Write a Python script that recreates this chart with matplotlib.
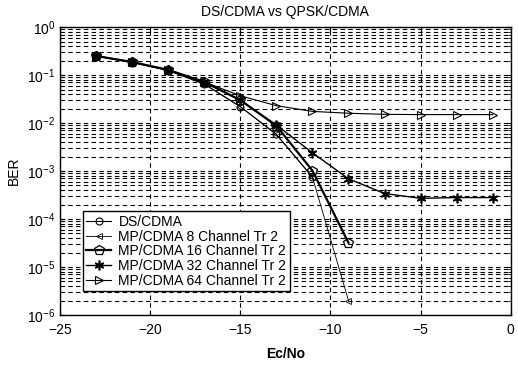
import matplotlib
matplotlib.use("Agg")
import matplotlib.pyplot as plt
import numpy as np

plt.rcParams['font.family'] = ['Liberation Sans', 'DejaVu Sans']

x_full = [-23, -21, -19, -17, -15, -13, -11, -9, -7, -5, -3, -1]

ds_x = [-23, -21, -19, -17, -15, -13, -11]
ds_ber = [0.25, 0.185, 0.125, 0.065, 0.022, 0.0058, 0.00075]

ch8_x = [-23, -21, -19, -17, -15, -13, -11, -9]
ch8_ber = [0.25, 0.185, 0.125, 0.065, 0.022, 0.0058, 0.00075, 2e-6]

ch16_x = [-23, -21, -19, -17, -15, -13, -11, -9]
ch16_ber = [0.25, 0.187, 0.128, 0.072, 0.030, 0.0088, 0.00102, 3.2e-5]

ch32_x = x_full
ch32_ber = [0.25, 0.187, 0.128, 0.072, 0.030, 0.0091, 0.0024, 0.00069,
            0.00034, 0.00027, 0.00028, 0.00028]

ch64_x = x_full
ch64_ber = [0.25, 0.185, 0.128, 0.072, 0.037, 0.023, 0.0175, 0.016,
            0.0152, 0.015, 0.015, 0.015]

labels = ["DS/CDMA", "MP/CDMA 8 Channel Tr 2", "MP/CDMA 16 Channel Tr 2",
          "MP/CDMA 32 Channel Tr 2", "MP/CDMA 64 Channel Tr 2"]
title = "DS/CDMA vs QPSK/CDMA"

fig = plt.figure(figsize=(5.18, 3.71), dpi=100)
ax = fig.add_axes([0.1158, 0.151, 0.986 - 0.1158, 0.927 - 0.151])

k = 'black'
ax.semilogy(ds_x, ds_ber, color=k, lw=0.8, marker='o', ms=5, mfc='none', mew=0.8, label=labels[0])
ax.semilogy(ch8_x, ch8_ber, color=k, lw=0.6, marker='<', ms=5, mfc='none', mew=0.6, label=labels[1])
ax.semilogy(ch16_x, ch16_ber, color=k, lw=1.6, marker='p', ms=7, mfc='none', mew=0.9, label=labels[2])
asterisk = (6, 2, 0)
ax.semilogy(ch32_x, ch32_ber, color=k, lw=1.0, marker=asterisk, ms=7, mew=1.2, label=labels[3])
ax.semilogy(ch64_x, ch64_ber, color=k, lw=0.8, marker='>', ms=6, mfc='none', mew=0.8, label=labels[4])

ax.set_xlim(-25, 0)
ax.set_ylim(1e-6, 1)
ax.set_xticks([-25, -20, -15, -10, -5, 0])
ax.set_yticks([10.0**e for e in range(-6, 1)])

ax.grid(True, which='major', axis='both', color=k, ls=(0, (4, 3)), lw=0.8)
ax.grid(True, which='minor', axis='y', color=k, ls=(0, (4, 3)), lw=0.8)
ax.tick_params(which='both', direction='in', top=True, right=True, labelsize=10)
ax.tick_params(axis='x', pad=6)
for s in ax.spines.values():
    s.set_linewidth(1.0)

ax.set_title(title, fontsize=10, pad=8)
ax.set_xlabel("Ec/No", fontsize=10, fontweight='bold', labelpad=7)
ax.set_ylabel("BER", fontsize=10)

leg = ax.legend(loc='lower left', bbox_to_anchor=(0.051, 0.083), fontsize=10,
                frameon=True, fancybox=False, edgecolor=k, framealpha=1,
                handlelength=1.8, handletextpad=0.5, labelspacing=0.05,
                borderpad=0.25, borderaxespad=0)
leg.get_frame().set_linewidth(1.0)

fig.savefig("out.png", dpi=100)
